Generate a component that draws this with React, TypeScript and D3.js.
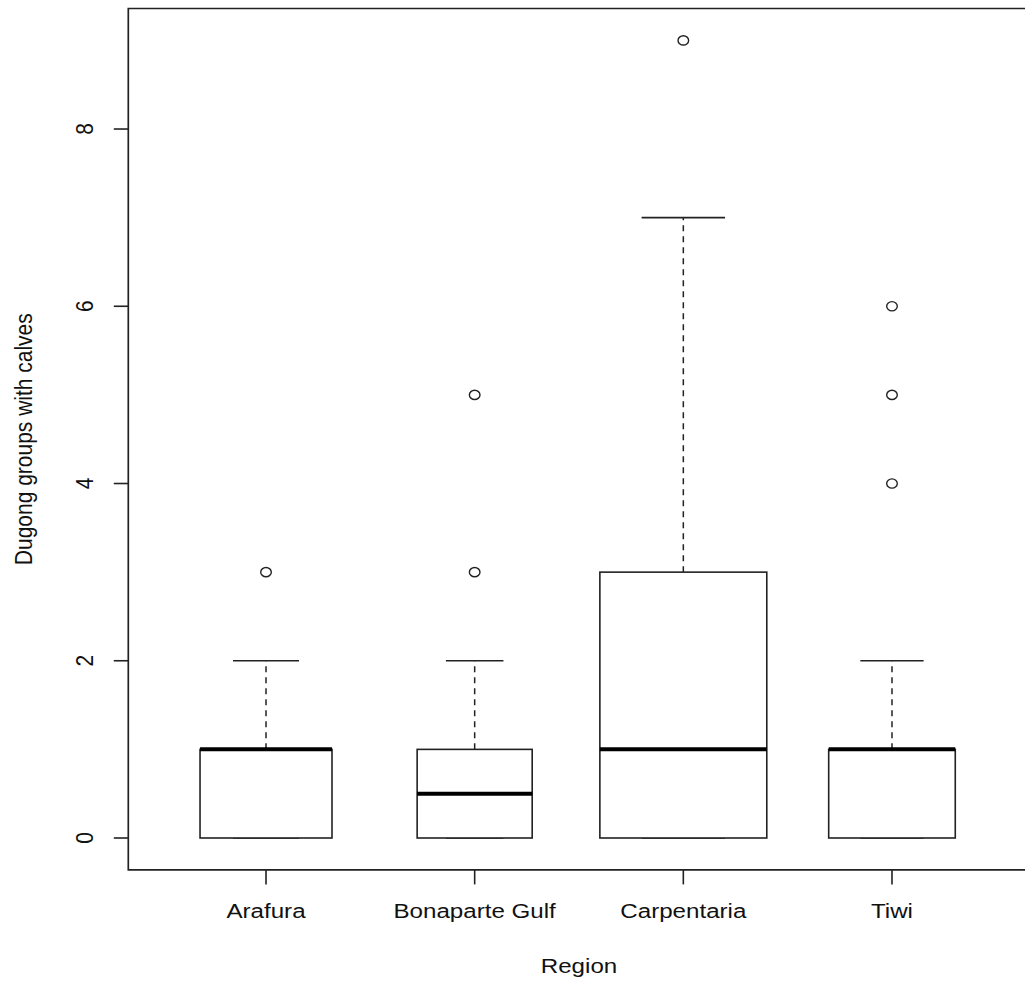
import React from "react";
import * as d3 from "d3";

const categories = ["Arafura", "Bonaparte Gulf", "Carpentaria", "Tiwi"];
const sampleSizes = [25, 19, 40, 23];
const lowerWhisker = [0, 0, 0, 0];
const q1 = [0, 0, 0, 0];
const medians = [1, 0.5, 1, 1];
const q3 = [1, 1, 3, 1];
const upperWhisker = [2, 2, 7, 2];
const outliers: number[][] = [[3], [3, 5], [9], [4, 5, 6]];
const yTicks = [0, 2, 4, 6, 8];
const xTitle = "Region";
const yTitle = "Dugong groups with calves";

const W = 1025;
const H = 985;
const left = 128.3;
const right = 1029.7;
const top = 8.5;
const bottom = 869.9;
const SX = 1.15;
const FONT = "'Liberation Sans', Arial, sans-serif";
const FS = 21;
const LINE = "#222";

export default function App() {
  const n = categories.length;
  const x = d3.scaleLinear().domain([0.5 - 0.16, n + 0.5 + 0.16]).range([left, right]);
  const y = d3.scaleLinear().domain([-0.36, 9.36]).range([bottom, top]);
  const unit = x(2) - x(1);
  const maxN = d3.max(sampleSizes) as number;
  const framePath = d3.path();
  framePath.moveTo(right, top);
  framePath.lineTo(left, top);
  framePath.lineTo(left, bottom);
  framePath.lineTo(right, bottom);

  return (
    <svg
      width={W}
      height={H}
      viewBox={`0 0 ${W} ${H}`}
      style={{ position: "absolute", left: 0, top: 0, display: "block", background: "#fff", overflow: "hidden" }}
      fontFamily={FONT}
    >
      <rect x={0} y={0} width={W} height={H} fill="#fff" />
      {categories.map((c, i) => {
        const cx = x(i + 1);
        const bw = 0.8 * Math.sqrt(sampleSizes[i] / maxN) * unit;
        const hw = bw / 2;
        return (
          <g key={c}>
            {upperWhisker[i] > q3[i] && (
              <line x1={cx} x2={cx} y1={y(q3[i])} y2={y(upperWhisker[i])} stroke={LINE} strokeWidth={1.5} strokeDasharray="6,5" />
            )}
            {lowerWhisker[i] < q1[i] && (
              <line x1={cx} x2={cx} y1={y(q1[i])} y2={y(lowerWhisker[i])} stroke={LINE} strokeWidth={1.5} strokeDasharray="6,5" />
            )}
            <line x1={cx - hw / 2} x2={cx + hw / 2} y1={y(upperWhisker[i])} y2={y(upperWhisker[i])} stroke={LINE} strokeWidth={1.6} />
            <line x1={cx - hw / 2} x2={cx + hw / 2} y1={y(lowerWhisker[i])} y2={y(lowerWhisker[i])} stroke={LINE} strokeWidth={1.6} />
            <rect x={cx - hw} y={y(q3[i])} width={bw} height={y(q1[i]) - y(q3[i])} fill="#fff" stroke={LINE} strokeWidth={1.6} />
            <line x1={cx - hw} x2={cx + hw} y1={y(medians[i])} y2={y(medians[i])} stroke="#000" strokeWidth={4} />
            {outliers[i].map((o, j) => (
              <ellipse key={j} cx={cx} cy={y(o)} rx={5.3} ry={4.6} fill="none" stroke={LINE} strokeWidth={1.4} />
            ))}
          </g>
        );
      })}
      {/* frame (right edge falls outside the picture) */}
      <path d={framePath.toString()} fill="none" stroke={LINE} strokeWidth={1.7} />
      {/* y axis */}
      {yTicks.map((t) => (
        <g key={t}>
          <line x1={left - 14.5} x2={left} y1={y(t)} y2={y(t)} stroke={LINE} strokeWidth={1.6} />
          <text
            transform={`translate(${93},${y(t)}) scale(${SX},1) rotate(-90)`}
            textAnchor="middle"
            fontSize={FS}
            fill="#111"
          >
            {t}
          </text>
        </g>
      ))}
      {/* x axis */}
      {categories.map((c, i) => (
        <g key={c}>
          <line x1={x(i + 1)} x2={x(i + 1)} y1={bottom} y2={bottom + 14.5} stroke={LINE} strokeWidth={1.6} />
          <text
            transform={`translate(${x(i + 1)},${918}) scale(${SX},1)`}
            textAnchor="middle"
            fontSize={FS}
            fill="#111"
          >
            {c}
          </text>
        </g>
      ))}
      <text
        transform={`translate(${(left + right) / 2},${973}) scale(${SX},1)`}
        textAnchor="middle"
        fontSize={FS}
        fill="#111"
      >
        {xTitle}
      </text>
      <text
        transform={`translate(${32},${(top + bottom) / 2}) scale(${SX},1) rotate(-90)`}
        textAnchor="middle"
        fontSize={FS}
        fill="#111"
      >
        {yTitle}
      </text>
    </svg>
  );
}
